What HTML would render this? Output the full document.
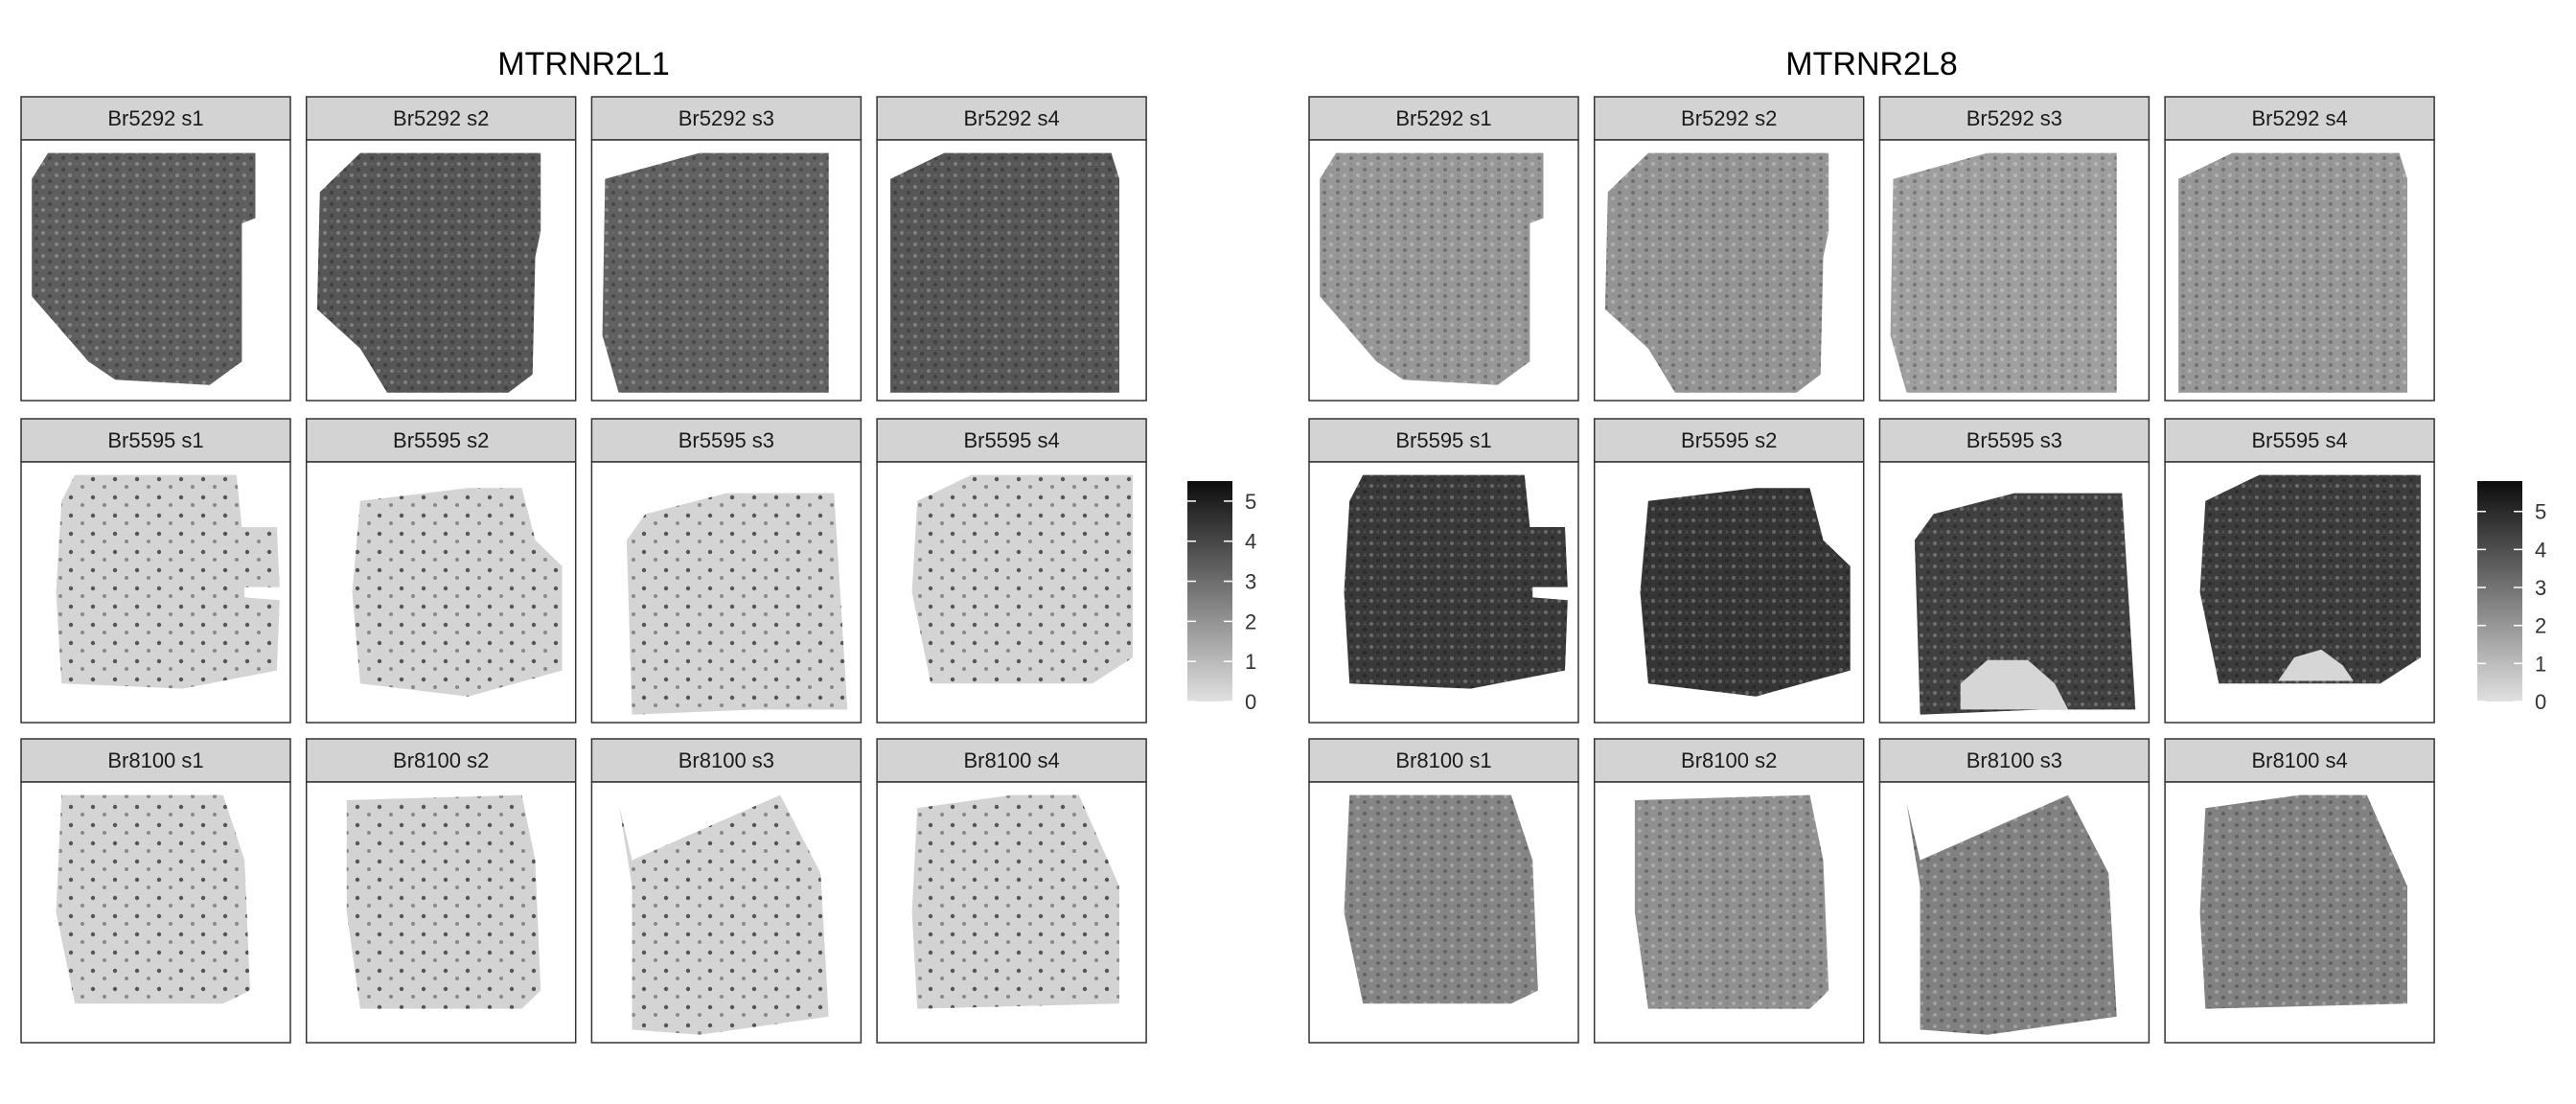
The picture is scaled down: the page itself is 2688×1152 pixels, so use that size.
<!DOCTYPE html>
<html><head><meta charset="utf-8">
<style>
html,body{margin:0;padding:0;background:#fff;}
svg{display:block;font-family:"Liberation Sans",sans-serif;}
</style></head>
<body>
<svg id="fig" width="2688" height="1152" viewBox="0 0 2688 1152">
<defs>
<linearGradient id="cbar" x1="0" y1="1" x2="0" y2="0">
<stop offset="0" stop-color="#e0e0e0"/><stop offset="1" stop-color="#0d0d0d"/>
</linearGradient>
<pattern id="specks" width="14" height="12" patternUnits="userSpaceOnUse">
<circle cx="3" cy="3" r="2" fill="#fff" opacity="0.25"/>
<circle cx="10" cy="9" r="2" fill="#000" opacity="0.25"/>
<circle cx="10" cy="3" r="1.6" fill="#777" opacity="0.3"/>
</pattern>
<pattern id="darkspecks" width="23" height="19" patternUnits="userSpaceOnUse">
<circle cx="5" cy="6" r="2.2" fill="#555"/>
<circle cx="17" cy="14" r="2" fill="#888"/>
</pattern>
</defs>
<g id="root"></g>
</svg>
<script>
const genes = ["MTRNR2L1", "MTRNR2L8"];
const donors = ["Br5292", "Br5595", "Br8100"];
const slices = ["s1", "s2", "s3", "s4"];
// mean expression per panel (rows = donors, cols = slices)
const meanL1 = [[3.4, 3.6, 3.3, 3.6], [0.3, 0.3, 0.3, 0.3], [0.3, 0.35, 0.3, 0.35]];
const meanL8 = [[2.0, 2.1, 1.8, 2.0], [4.6, 4.7, 4.4, 4.5], [2.5, 2.2, 2.6, 2.6]];
const cbTicks = [0, 1, 2, 3, 4, 5];
const cbMax = [5.5, 5.8];

const shapes = [
 [[[.1,.05],[.87,.05],[.87,.3],[.82,.32],[.82,.85],[.7,.94],[.35,.92],[.25,.85],[.04,.6],[.04,.15]],
  [[.2,.05],[.87,.05],[.87,.35],[.85,.45],[.84,.9],[.75,.97],[.3,.97],[.2,.8],[.04,.65],[.05,.2]],
  [[.05,.15],[.4,.05],[.88,.05],[.88,.97],[.1,.97],[.04,.75]],
  [[.05,.15],[.25,.05],[.87,.05],[.9,.15],[.9,.97],[.05,.97]]],
 [[[.2,.05],[.8,.05],[.82,.25],[.95,.25],[.96,.48],[.83,.48],[.83,.52],[.96,.53],[.95,.8],[.6,.87],[.15,.85],[.13,.5],[.15,.15]],
  [[.2,.15],[.6,.1],[.8,.1],[.85,.3],[.95,.4],[.95,.8],[.6,.9],[.2,.85],[.17,.5]],
  [[.2,.2],[.5,.12],[.9,.12],[.95,.95],[.6,.95],[.15,.97],[.13,.3]],
  [[.15,.15],[.35,.05],[.95,.05],[.95,.75],[.8,.85],[.2,.85],[.13,.5]]],
 [[[.15,.05],[.75,.05],[.83,.3],[.85,.8],[.75,.85],[.2,.85],[.13,.5]],
  [[.15,.07],[.8,.05],[.85,.3],[.87,.8],[.8,.87],[.2,.87],[.15,.5]],
  [[.1,.08],[.15,.3],[.7,.05],[.85,.35],[.88,.9],[.4,.97],[.15,.95],[.15,.4]],
  [[.15,.1],[.5,.05],[.75,.05],[.9,.4],[.9,.85],[.15,.87],[.13,.5]]]
];
// low-expression patches (MTRNR2L8, Br5595 s3/s4)
const lowPatchS3 = [[.3,.95],[.3,.85],[.4,.76],[.55,.76],[.65,.85],[.7,.95]];
const lowPatchS4 = [[.42,.84],[.48,.75],[.58,.72],[.66,.78],[.7,.84]];

const NS = "http://www.w3.org/2000/svg";
const root = document.getElementById("root");
function mk(tag, attrs, parent){const e=document.createElementNS(NS,tag);for(const k in attrs)e.setAttribute(k,attrs[k]);(parent||root).appendChild(e);return e;}
function colorFor(v, max){const t=Math.max(0,Math.min(1,v/max));const c=Math.round(224-(224-13)*t);return `rgb(${c},${c},${c})`;}

const halfX = [22, 1366], colStep = 297.7, panelW = 281;
const rowTop = [101, 437, 771], stripH = 45, bodyH = 272;
const cbX = [1239, 2585], cbTop = 502, cbBot = 732, cbW = 47;

genes.forEach((g, gi) => {
  const means = gi === 0 ? meanL1 : meanL8;
  const t = mk("text", {x: halfX[gi] + (colStep*3 + panelW)/2, y: 78, "font-size": 34, "text-anchor": "middle", fill: "#000"});
  t.textContent = g;
  
  
  donors.forEach((d, ri) => {
    slices.forEach((s, ci) => {
      const x0 = halfX[gi] + ci*colStep, y0 = rowTop[ri];
      const grp = mk("g", {});
      
      
      const strip = mk("rect", {x: x0, y: y0, width: panelW, height: stripH, fill: "#d3d3d3", stroke: "#333", "stroke-width": 1.5}, grp);
      
      
      const lab = mk("text", {x: x0 + panelW/2, y: y0 + 30, "font-size": 22, "text-anchor": "middle", fill: "#1a1a1a"}, grp);
      lab.textContent = d + " " + s;
      
      
      const by = y0 + stripH;
      const body = mk("rect", {x: x0, y: by, width: panelW, height: bodyH, fill: "#fff", stroke: "#333", "stroke-width": 1.5}, grp);
      
      
      const toPts = arr => arr.map(p => (x0 + p[0]*panelW).toFixed(1) + "," + (by + p[1]*bodyH).toFixed(1)).join(" ");
      const pts = toPts(shapes[ri][ci]);
      const v = means[ri][ci];
      const tis = mk("polygon", {points: pts, fill: colorFor(v, cbMax[gi])}, grp);
      
      
      const tex = mk("polygon", {points: pts, fill: v < 1 ? "url(#darkspecks)" : "url(#specks)"}, grp);
      
      
      if (gi === 1 && ri === 1 && ci >= 2) {
        const ex = mk("polygon", {points: toPts(ci === 2 ? lowPatchS3 : lowPatchS4), fill: "#d6d6d6"}, grp);
        
        
      }
    });
  });
  const cb = mk("rect", {x: cbX[gi], y: cbTop, width: cbW, height: cbBot - cbTop, fill: "url(#cbar)"});
  
  
  cbTicks.forEach(tv => {
    const yy = cbBot - (tv / cbMax[gi]) * (cbBot - cbTop);
    const l1 = mk("line", {x1: cbX[gi], x2: cbX[gi] + 9, y1: yy, y2: yy, stroke: "#fff", "stroke-width": 1.5});
    
    
    const l2 = mk("line", {x1: cbX[gi] + cbW - 9, x2: cbX[gi] + cbW, y1: yy, y2: yy, stroke: "#fff", "stroke-width": 1.5});
    
    
    const tl = mk("text", {x: cbX[gi] + cbW + 13, y: yy + 8, "font-size": 22, fill: "#333"});
    tl.textContent = tv;
    
    
  });
});
</script>
</body></html>
